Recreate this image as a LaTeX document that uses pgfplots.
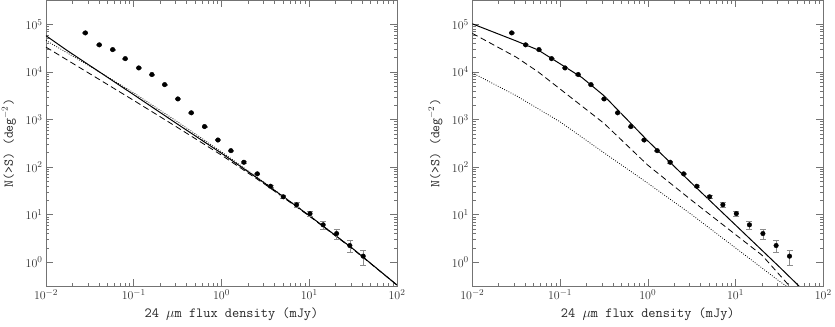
\documentclass[border=0pt]{standalone}
\usepackage{pgfplots}
\pgfplotsset{compat=1.18}

\pgfplotstableread{
x y e
0.0281 65900 1300
0.0405 37000 750
0.0575 29400 600
0.080 19000 400
0.114 12100 260
0.161 8800 190
0.225 5400 120
0.318 2700 65
0.453 1380 35
0.641 710 20
0.91 370 12
1.28 221 8
1.80 126 5
2.56 72 2.8
3.62 39.5 2.0
5.06 23.7 1.6
7.17 16.1 1.9
10.2 10.5 1.4
14.4 6.1 1.1
20.5 4.0 0.9
29.0 2.24 0.65
41.2 1.34 0.48
}\obsdata

\definecolor{axgray}{gray}{0.45}
\definecolor{errgray}{gray}{0.55}

\begin{document}
\begin{tikzpicture}
\begin{axis}[at={(46bp,41bp)}, anchor=south west,
    xmode=log, ymode=log, scale only axis,
    width=351bp, height=285.5bp,
    xmin=0.01, xmax=100, ymin=0.316228, ymax=316228,
    axis line style={axgray, line width=0.6pt},
    tick style={axgray, line width=0.5pt},
    major tick length=7bp, minor tick length=3.5bp,
    tick align=inside, xtick pos=both, ytick pos=both,
    xtick={0.01,0.1,1,10,100},
    ytick={1,10,100,1000,10000,100000},
    xticklabels={$10^{-2}$,$10^{-1}$,$10^{0}$,$10^{1}$,$10^{2}$},
    yticklabels={$10^{0}$,$10^{1}$,$10^{2}$,$10^{3}$,$10^{4}$,$10^{5}$},
    ticklabel style={font=\fontsize{12.5}{14}\selectfont, text=black!80},
    xlabel={24 $\mu$m flux density (mJy)},
    ylabel={N(>S) (deg$^{-2}$)},
    xlabel style={font=\ttfamily\fontsize{14}{16}\selectfont, text=black!85, at={(axis description cs:0.5,0)}, anchor=center, yshift=-28bp, xshift=10bp},
    ylabel style={font=\ttfamily\fontsize{13.5}{15}\selectfont, text=black!85, at={(axis description cs:0,0.5)}, anchor=center, yshift=37bp},
  ]
\addplot[black, line width=0.8pt, dash pattern=on 0.8bp off 1.6bp] coordinates {(0.01,45709) (0.031623,13183) (0.1,3631) (0.31623,891.3) (1,208.9) (3.1623,45.71) (10,9.55) (31.623,1.905) (100,0.331)};
\addplot[black, line width=0.8pt, dash pattern=on 6bp off 3.5bp] coordinates {(0.01,33113) (0.031623,9120) (0.1,2512) (0.31623,676.1) (1,177.8) (3.1623,42.66) (10,9.33) (31.623,1.862) (100,0.331)};
\addplot[black, line width=1.0pt] coordinates {(0.01,57544) (0.017378,28184) (0.1,3311) (0.31623,794.3) (1,195.0) (3.1623,44.67) (10,9.55) (31.623,1.905) (100,0.331)};
\addplot[only marks, mark=*, mark size=2.3bp, black,
  error bars/y dir=both, error bars/y explicit,
  error bars/error bar style={errgray, line width=0.5pt},
  error bars/error mark options={rotate=90, errgray, mark size=3bp, line width=0.5pt}]
  table[x=x, y=y, y error=e] {\obsdata};
\end{axis}

\begin{axis}[at={(472.3bp,41bp)}, anchor=south west,
    xmode=log, ymode=log, scale only axis,
    width=351bp, height=285.5bp,
    xmin=0.01, xmax=100, ymin=0.316228, ymax=316228,
    axis line style={axgray, line width=0.6pt},
    tick style={axgray, line width=0.5pt},
    major tick length=7bp, minor tick length=3.5bp,
    tick align=inside, xtick pos=both, ytick pos=both,
    xtick={0.01,0.1,1,10,100},
    ytick={1,10,100,1000,10000,100000},
    xticklabels={$10^{-2}$,$10^{-1}$,$10^{0}$,$10^{1}$,$10^{2}$},
    yticklabels={$10^{0}$,$10^{1}$,$10^{2}$,$10^{3}$,$10^{4}$,$10^{5}$},
    ticklabel style={font=\fontsize{12.5}{14}\selectfont, text=black!80},
    xlabel={24 $\mu$m flux density (mJy)},
    ylabel={N(>S) (deg$^{-2}$)},
    xlabel style={font=\ttfamily\fontsize{14}{16}\selectfont, text=black!85, at={(axis description cs:0.5,0)}, anchor=center, yshift=-28bp},
    ylabel style={font=\ttfamily\fontsize{13.5}{15}\selectfont, text=black!85, at={(axis description cs:0,0.5)}, anchor=center, yshift=37bp},
  ]
\addplot[black, line width=0.8pt, dash pattern=on 0.8bp off 1.6bp] coordinates {(0.01,9550) (0.031623,3162) (0.1,891.3) (0.31623,199.5) (1,45.71) (3.1623,10) (10,1.995) (31.623,0.3981) (39.81,0.2951)};
\addplot[black, line width=0.8pt, dash pattern=on 6bp off 3.5bp] coordinates {(0.01,64565) (0.031623,20417) (0.056234,10000) (0.1,4365) (0.31623,831.8) (1,109.6) (3.1623,19.95) (10,3.802) (19.953,1.413) (39.81,0.3388) (44.67,0.263)};
\addplot[black, line width=1.0pt] coordinates {(0.01,102329) (0.031623,44668) (0.056234,28840) (0.1,14791) (0.17783,7586) (0.31623,3162) (1,354.8) (3.1623,45.71) (10,6.026) (31.623,0.7943) (56.234,0.2818)};
\addplot[only marks, mark=*, mark size=2.3bp, black,
  error bars/y dir=both, error bars/y explicit,
  error bars/error bar style={errgray, line width=0.5pt},
  error bars/error mark options={rotate=90, errgray, mark size=3bp, line width=0.5pt}]
  table[x=x, y=y, y error=e] {\obsdata};
\end{axis}
\pgfresetboundingbox
\useasboundingbox (0,0) rectangle (835bp,327bp);
\end{tikzpicture}
\end{document}
